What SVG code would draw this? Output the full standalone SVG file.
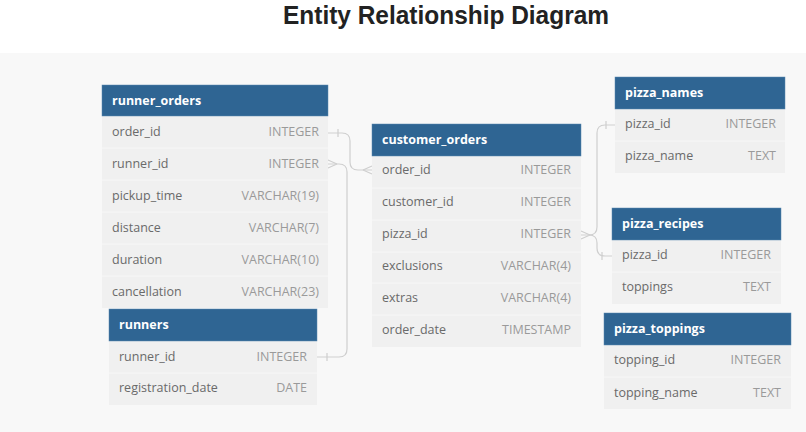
<svg xmlns="http://www.w3.org/2000/svg" width="806" height="432" viewBox="0 0 806 432">
<style>
.hd{fill:#2f6593;stroke:#5a88b0;stroke-width:0.5}
.bd{fill:#f0f0f0}
.sep{stroke:#f7f7f7;stroke-width:1}
.tt{font-family:"Open Sans","Liberation Sans",sans-serif;font-size:12.5px;font-weight:bold;fill:#ffffff}
.fn{font-family:"Open Sans","Liberation Sans",sans-serif;font-size:12.5px;fill:#6a6a6a}
.ty{font-family:"Open Sans","Liberation Sans",sans-serif;font-size:12.5px;fill:#9a9a9a;text-anchor:end}
.cn{fill:none;stroke:#cfcfcf;stroke-width:1.2}
</style>
<rect x="0" y="0" width="806" height="432" fill="#ffffff"/>
<rect x="0" y="53" width="806" height="379" fill="#f8f8f8"/>
<text x="283" y="23.5" font-family="'Liberation Sans',Arial,sans-serif" font-size="25" font-weight="bold" fill="#222222" textLength="326" lengthAdjust="spacingAndGlyphs">Entity Relationship Diagram</text>

<g id="connectors">
<path class="cn" d="M328,133 H342 Q350,133 350,141 V162 Q350,170 358,170 H372"/>
<path class="cn" d="M363,170 L372,166 M363,170 L372,174"/>
<line class="cn" x1="338" y1="129" x2="338" y2="137"/>
<path class="cn" d="M328,164 H339 Q347,164 347,172 V349 Q347,357 339,357 H317"/>
<path class="cn" d="M337,164 L328,160 M337,164 L328,168"/>
<line class="cn" x1="327" y1="353" x2="327" y2="361"/>
<path class="cn" d="M581,235 H589 Q597,235 597,227 V133 Q597,125 605,125 H615"/>
<path class="cn" d="M589,235 Q597,235 597,243 V248 Q597,256 605,256 H612"/>
<path class="cn" d="M590,235 L581,231 M590,235 L581,239"/>
<line class="cn" x1="606" y1="121" x2="606" y2="129"/>
<line class="cn" x1="602" y1="252" x2="602" y2="260"/>
</g>

<g id="runner_orders">
<rect class="bd" x="102" y="116" width="226" height="192"/>
<line class="sep" x1="102" y1="148" x2="328" y2="148"/>
<line class="sep" x1="102" y1="180" x2="328" y2="180"/>
<line class="sep" x1="102" y1="212" x2="328" y2="212"/>
<line class="sep" x1="102" y1="244" x2="328" y2="244"/>
<line class="sep" x1="102" y1="276" x2="328" y2="276"/>
<rect class="hd" x="102" y="85" width="226" height="31"/>
<text class="tt" x="112" y="105">runner_orders</text>
<text class="fn" x="112" y="136">order_id</text><text class="ty" x="319" y="136">INTEGER</text>
<text class="fn" x="112" y="168">runner_id</text><text class="ty" x="319" y="168">INTEGER</text>
<text class="fn" x="112" y="200">pickup_time</text><text class="ty" x="319" y="200">VARCHAR(19)</text>
<text class="fn" x="112" y="232">distance</text><text class="ty" x="319" y="232">VARCHAR(7)</text>
<text class="fn" x="112" y="264">duration</text><text class="ty" x="319" y="264">VARCHAR(10)</text>
<text class="fn" x="112" y="296">cancellation</text><text class="ty" x="319" y="296">VARCHAR(23)</text>
</g>

<g id="runners">
<rect class="bd" x="109" y="341" width="208" height="64"/>
<line class="sep" x1="109" y1="373" x2="317" y2="373"/>
<rect class="hd" x="109" y="309" width="208" height="32"/>
<text class="tt" x="119" y="329">runners</text>
<text class="fn" x="119" y="361">runner_id</text><text class="ty" x="307" y="361">INTEGER</text>
<text class="fn" x="119" y="392">registration_date</text><text class="ty" x="307" y="392">DATE</text>
</g>

<g id="customer_orders">
<rect class="bd" x="372" y="156" width="209" height="191"/>
<line class="sep" x1="372" y1="188" x2="581" y2="188"/>
<line class="sep" x1="372" y1="220" x2="581" y2="220"/>
<line class="sep" x1="372" y1="252" x2="581" y2="252"/>
<line class="sep" x1="372" y1="283" x2="581" y2="283"/>
<line class="sep" x1="372" y1="315" x2="581" y2="315"/>
<rect class="hd" x="372" y="124" width="209" height="32"/>
<text class="tt" x="382" y="144">customer_orders</text>
<text class="fn" x="382" y="174">order_id</text><text class="ty" x="571" y="174">INTEGER</text>
<text class="fn" x="382" y="206">customer_id</text><text class="ty" x="571" y="206">INTEGER</text>
<text class="fn" x="382" y="238">pizza_id</text><text class="ty" x="571" y="238">INTEGER</text>
<text class="fn" x="382" y="270">exclusions</text><text class="ty" x="571" y="270">VARCHAR(4)</text>
<text class="fn" x="382" y="302">extras</text><text class="ty" x="571" y="302">VARCHAR(4)</text>
<text class="fn" x="382" y="334">order_date</text><text class="ty" x="571" y="334">TIMESTAMP</text>
</g>

<g id="pizza_names">
<rect class="bd" x="615" y="109" width="170" height="64"/>
<line class="sep" x1="615" y1="141" x2="785" y2="141"/>
<rect class="hd" x="615" y="77" width="170" height="32"/>
<text class="tt" x="625" y="97">pizza_names</text>
<text class="fn" x="625" y="128">pizza_id</text><text class="ty" x="776" y="128">INTEGER</text>
<text class="fn" x="625" y="160">pizza_name</text><text class="ty" x="776" y="160">TEXT</text>
</g>

<g id="pizza_recipes">
<rect class="bd" x="612" y="240" width="169" height="64"/>
<line class="sep" x1="612" y1="272" x2="781" y2="272"/>
<rect class="hd" x="612" y="208" width="169" height="32"/>
<text class="tt" x="622" y="228">pizza_recipes</text>
<text class="fn" x="622" y="259">pizza_id</text><text class="ty" x="771" y="259">INTEGER</text>
<text class="fn" x="622" y="291">toppings</text><text class="ty" x="771" y="291">TEXT</text>
</g>

<g id="pizza_toppings">
<rect class="bd" x="604" y="345" width="187" height="64"/>
<line class="sep" x1="604" y1="377" x2="791" y2="377"/>
<rect class="hd" x="604" y="313" width="187" height="32"/>
<text class="tt" x="614" y="333">pizza_toppings</text>
<text class="fn" x="614" y="364">topping_id</text><text class="ty" x="781" y="364">INTEGER</text>
<text class="fn" x="614" y="397">topping_name</text><text class="ty" x="781" y="397">TEXT</text>
</g>
</svg>
